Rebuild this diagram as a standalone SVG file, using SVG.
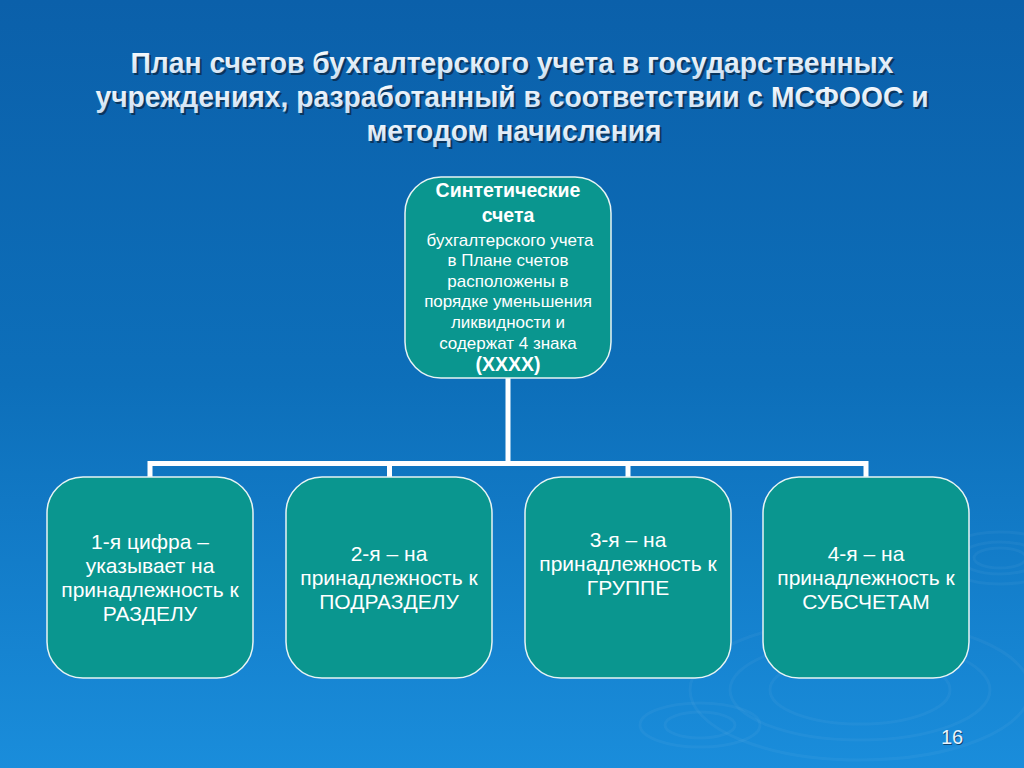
<svg xmlns="http://www.w3.org/2000/svg" width="1024" height="768" viewBox="0 0 1024 768">
<defs>
<linearGradient id="bg" x1="0" y1="0" x2="0" y2="1">
<stop offset="0" stop-color="#0b60aa"/>
<stop offset="0.5" stop-color="#0d6fba"/>
<stop offset="1" stop-color="#1a8ddb"/>
</linearGradient>
<linearGradient id="tg" x1="0" y1="0" x2="0" y2="1">
<stop offset="0" stop-color="#ffffff"/>
<stop offset="1" stop-color="#c9def2"/>
</linearGradient>
<style>
.title{font-family:"Liberation Sans Narrow","Arial Narrow","Liberation Sans",Arial,sans-serif;font-weight:bold;font-size:30px;text-anchor:middle}
.tsh{fill:#0a2a4a;opacity:0.8}
.tfg{fill:url(#tg)}
.box{fill:#0a968f;stroke:#e8f4f4;stroke-width:1.5}
.lbl{font-family:"Liberation Sans",Arial,sans-serif;fill:#ffffff;text-anchor:middle;font-size:21px}
.sm{font-size:17px}
.b{font-weight:bold;font-size:19.5px}
.conn{fill:none;stroke:#ffffff;stroke-width:5}
.rip{fill:none;stroke:#ffffff;stroke-opacity:0.04;stroke-width:3}
</style>
</defs>
<rect x="0" y="0" width="1024" height="768" fill="url(#bg)"/>
<g id="ripples">
<ellipse class="rip" cx="1000" cy="558" rx="40" ry="16"/>
<ellipse class="rip" cx="1000" cy="558" rx="26" ry="10"/>
<ellipse class="rip" cx="1000" cy="558" rx="60" ry="26"/>
<ellipse class="rip" cx="860" cy="690" rx="130" ry="50"/>
<ellipse class="rip" cx="860" cy="690" rx="90" ry="34"/>
<ellipse class="rip" cx="860" cy="690" rx="170" ry="70"/>
<ellipse class="rip" cx="700" cy="725" rx="60" ry="22"/>
<ellipse class="rip" cx="700" cy="725" rx="35" ry="13"/>
</g>
<g id="title">
<text class="title tsh" x="514" y="75" textLength="763" lengthAdjust="spacingAndGlyphs">План счетов бухгалтерского учета в государственных</text>
<text class="title tsh" x="514" y="109" textLength="833" lengthAdjust="spacingAndGlyphs">учреждениях, разработанный в соответствии с МСФООС и</text>
<text class="title tsh" x="516" y="143" textLength="295" lengthAdjust="spacingAndGlyphs">методом начисления</text>
<text class="title tfg" x="512" y="73" textLength="763" lengthAdjust="spacingAndGlyphs">План счетов бухгалтерского учета в государственных</text>
<text class="title tfg" x="512" y="107" textLength="833" lengthAdjust="spacingAndGlyphs">учреждениях, разработанный в соответствии с МСФООС и</text>
<text class="title tfg" x="514" y="141" textLength="295" lengthAdjust="spacingAndGlyphs">методом начисления</text>
</g>
<g id="connectors">
<path class="conn" d="M508 378 V463.5"/>
<path class="conn" d="M150 477 V463.5 H866 V477"/>
<path class="conn" d="M389.5 463.5 V477"/>
<path class="conn" d="M628 463.5 V477"/>
</g>
<g id="node-top">
<rect class="box" x="405" y="177" width="206" height="201" rx="36"/>
<text class="lbl b" x="508" y="197">Синтетические</text>
<text class="lbl b" x="508" y="222">счета</text>
<text class="lbl sm" x="510" y="246">бухгалтерского учета</text>
<text class="lbl sm" x="508" y="266">в Плане счетов</text>
<text class="lbl sm" x="508" y="287">расположены в</text>
<text class="lbl sm" x="508" y="307">порядке уменьшения</text>
<text class="lbl sm" x="508" y="328">ликвидности и</text>
<text class="lbl sm" x="508" y="349">содержат 4 знака</text>
<text class="lbl b" x="508" y="371">(ХХХХ)</text>
</g>
<g id="node-1">
<rect class="box" x="47" y="477" width="206" height="201" rx="36"/>
<text class="lbl" x="150" y="549">1-я цифра –</text>
<text class="lbl" x="150" y="573">указывает на</text>
<text class="lbl" x="150" y="597">принадлежность к</text>
<text class="lbl" x="150" y="621">РАЗДЕЛУ</text>
</g>
<g id="node-2">
<rect class="box" x="286" y="477" width="206" height="201" rx="36"/>
<text class="lbl" x="389" y="561">2-я – на</text>
<text class="lbl" x="389" y="585">принадлежность к</text>
<text class="lbl" x="389" y="609">ПОДРАЗДЕЛУ</text>
</g>
<g id="node-3">
<rect class="box" x="525" y="477" width="206" height="201" rx="36"/>
<text class="lbl" x="628" y="547">3-я – на</text>
<text class="lbl" x="628" y="571">принадлежность к</text>
<text class="lbl" x="628" y="595">ГРУППЕ</text>
</g>
<g id="node-4">
<rect class="box" x="763" y="477" width="206" height="201" rx="36"/>
<text class="lbl" x="866" y="561">4-я – на</text>
<text class="lbl" x="866" y="585">принадлежность к</text>
<text class="lbl" x="866" y="609">СУБСЧЕТАМ</text>
</g>
<g id="page-number">
<text x="953" y="745" font-family="Liberation Sans,Arial,sans-serif" font-size="20" fill="#0a2a4a" text-anchor="middle" opacity="0.7">16</text>
<text x="952" y="744" font-family="Liberation Sans,Arial,sans-serif" font-size="20" fill="#e8f2fb" text-anchor="middle">16</text>
</g>
</svg>
